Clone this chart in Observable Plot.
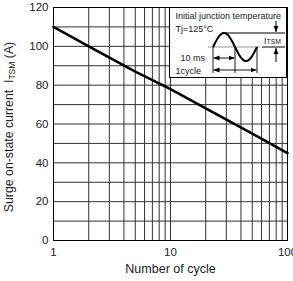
<!DOCTYPE html>
<html><head><meta charset="utf-8">
<script src="https://cdn.jsdelivr.net/npm/d3@7"></script>
<script src="https://cdn.jsdelivr.net/npm/@observablehq/plot@0.6"></script>
<style>body{margin:0;background:#fff;} svg{font-family:"Liberation Sans",Arial,Helvetica,sans-serif;}</style>
</head><body><div id="chart"></div>
<script>
const cycles = [1, 2, 5, 10, 20, 50, 100];
const current = [110, 100, 87, 78, 68, 55, 45];
const xGrid = [1,2,3,4,5,6,7,8,9,10,20,30,40,50,60,70,80,90,100];
const yGrid = [0,10,20,30,40,50,60,70,80,90,100,110,120];
const xTicks = [1,5,10,50,100];
const yTicks = [0,20,40,60,80,100,120];
const xLabel = "Number of cycle";
const data = cycles.map((c,i)=>({c, v: current[i]}));

const plot = Plot.plot({
  width: 293, height: 281,
  marginLeft: 53, marginRight: 6, marginTop: 7, marginBottom: 41,
  style: {fontFamily: '"Liberation Sans",Arial,sans-serif', fontSize: "11px", background: "#fff", color: "#222"},
  x: {type: "log", domain: [1, 100], label: null},
  y: {domain: [0, 120], label: null},
  marks: [
    Plot.ruleX(xGrid, {stroke: "#333", strokeWidth: 1}),
    Plot.ruleY(yGrid, {stroke: "#333", strokeWidth: 1}),
    Plot.frame({stroke: "#000", strokeWidth: 1}),
    Plot.line(data, {x: "c", y: "v", stroke: "#000", strokeWidth: 2.6}),
    Plot.axisX(xTicks, {tickSize: 0, tickPadding: 7, tickFormat: d => String(d), label: null, fontSize: 11.5}),
    Plot.axisY(yTicks, {tickSize: 0, tickPadding: 5, label: null, fontSize: 11.5}),
    Plot.text([xLabel], {frameAnchor: "bottom", dy: 32, fontSize: 12.5, fill: "#222"})
  ]
});
document.getElementById("chart").appendChild(plot);

const svg = d3.select(plot);
// y-axis label with subscript
const yl = svg.append("text")
  .attr("transform", "translate(13,127) rotate(-90)")
  .attr("text-anchor", "middle")
  .attr("font-size", 12.3).attr("fill", "#222");
yl.append("tspan").text("Surge on-state current  I");
yl.append("tspan").attr("font-size", 8.5).attr("dy", 2).text("TSM");
yl.append("tspan").attr("dy", -2).text(" (A)");

// inset diagram
const defs = svg.append("defs");
defs.append("marker").attr("id","ah").attr("viewBox","0 0 10 10").attr("refX",10).attr("refY",5)
  .attr("markerWidth",6).attr("markerHeight",6).attr("markerUnits","userSpaceOnUse").attr("orient","auto-start-reverse")
  .append("path").attr("d","M0,1L10,5L0,9Z").attr("fill","#000");

const g = svg.append("g").attr("fill", "none").attr("stroke", "#000");
g.append("rect").attr("x", 169.5).attr("y", 7.5).attr("width", 117).attr("height", 70).attr("fill", "#fff").attr("stroke-width", 1);
g.append("line").attr("x1", 208).attr("x2", 260).attr("y1", 47).attr("y2", 47).attr("stroke", "#999").attr("stroke-width", 1.2);
const sine = d3.range(0, 1.0001, 0.02).map(t => [213 + 44 * t, 47 - 14 * Math.sin(2 * Math.PI * t)]);
g.append("path").attr("d", d3.line()(sine)).attr("stroke-width", 2);
[213, 235, 257].forEach(x => g.append("line").attr("x1", x).attr("x2", x).attr("y1", 47).attr("y2", 73).attr("stroke-width", 0.9));
g.append("line").attr("x1", 213.5).attr("x2", 234.5).attr("y1", 58).attr("y2", 58).attr("stroke-width", 0.9)
  .attr("marker-start", "url(#ah)").attr("marker-end", "url(#ah)");
g.append("line").attr("x1", 213.5).attr("x2", 256.5).attr("y1", 70).attr("y2", 70).attr("stroke-width", 0.9)
  .attr("marker-start", "url(#ah)").attr("marker-end", "url(#ah)");
g.append("line").attr("x1", 226).attr("x2", 285).attr("y1", 33).attr("y2", 33).attr("stroke-width", 1);
g.append("line").attr("x1", 262).attr("x2", 285).attr("y1", 47).attr("y2", 47).attr("stroke-width", 1);
g.append("line").attr("x1", 276).attr("x2", 276).attr("y1", 21).attr("y2", 32).attr("stroke-width", 1).attr("marker-end", "url(#ah)");
g.append("line").attr("x1", 276).attr("x2", 276).attr("y1", 62).attr("y2", 48).attr("stroke-width", 1).attr("marker-end", "url(#ah)");

const t = svg.append("g").attr("fill", "#222").attr("font-size", 9).attr("text-anchor", "start");
t.append("text").attr("x", 175.5).attr("y", 18.5).text("Initial junction temperature");
t.append("text").attr("x", 175.5).attr("y", 31.5).text("Tj=125°C");
const it = t.append("text").attr("x", 264).attr("y", 43.5);
it.append("tspan").text("I");
it.append("tspan").attr("font-size", 6.8).attr("dy", 0.5).text("TSM");
t.append("text").attr("x", 205).attr("y", 61).attr("text-anchor", "end").text("10 ms");
t.append("text").attr("x", 175.5).attr("y", 73.5).text("1cycle");
</script></body></html>
